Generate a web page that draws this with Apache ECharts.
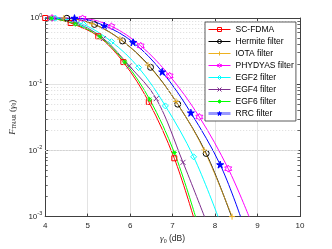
<!DOCTYPE html>
<html><head><meta charset="utf-8">
<script src="https://cdn.jsdelivr.net/npm/echarts@6/dist/echarts.min.js"></script>
<style>html,body{margin:0;padding:0;background:#fff}#c{width:332px;height:249px}</style>
</head><body><div id="c"></div>
<script>
// ---- data ----
const xTicks = [4, 5, 6, 7, 8, 9, 10];
const yTickExps = [0, -1, -2, -3];
const seriesNames = ['SC-FDMA', 'Hermite filter', 'IOTA filter', 'PHYDYAS filter', 'EGF2 filter', 'EGF4 filter', 'EGF6 filter', 'RRC filter'];

const scX = [4.0, 4.3, 4.6, 5.25, 5.84, 6.44, 7.04, 7.49];
const scY = [1.0, 0.95, 0.84, 0.53, 0.216, 0.054, 0.0076, 0.001];
const scMarks = [0, 2, 3, 4, 5, 6];

const hermX = [4.0, 4.51, 5.16, 5.82, 6.48, 7.12, 7.79, 8.39];
const hermY = [1.0, 0.99, 0.80, 0.45, 0.18, 0.05, 0.009, 0.001];
const hermMarks = [1, 2, 3, 4, 5, 6];

const iotaX = [4.0, 4.44, 5.10, 5.76, 6.42, 7.08, 7.74, 8.40];
const iotaY = [1.0, 0.995, 0.82, 0.48, 0.195, 0.055, 0.0101, 0.001];
const iotaMarks = [1, 2, 3, 4, 5, 6, 7];

const phyX = [4.0, 4.16, 4.88, 5.56, 6.25, 6.93, 7.63, 8.31, 8.80];
const phyY = [1.0, 1.0, 0.985, 0.75, 0.38, 0.134, 0.032, 0.0053, 0.001];
const phyMarks = [1, 2, 3, 4, 5, 6, 7];

const egf2X = [4.0, 4.24, 4.9, 5.56, 6.2, 6.83, 7.495, 8.07];
const egf2Y = [1.0, 0.995, 0.80, 0.44, 0.178, 0.047, 0.008, 0.001];
const egf2Marks = [1, 2, 3, 4, 5, 6];

const egf4X = [4.0, 4.13, 4.75, 5.37, 5.98, 6.615, 7.245, 7.75];
const egf4Y = [1.0, 0.99, 0.83, 0.49, 0.189, 0.0605, 0.0066, 0.001];
const egf4Marks = [1, 2, 3, 4, 5, 6];

const egf6X = [4.0, 4.14, 4.71, 5.29, 5.875, 6.46, 7.04, 7.54];
const egf6Y = [1.0, 0.99, 0.81, 0.52, 0.216, 0.059, 0.0093, 0.001];
const egf6Marks = [1, 2, 3, 4, 5, 6];

const rrcX = [4.0, 4.69, 5.39, 6.07, 6.755, 7.43, 8.12, 8.60];
const rrcY = [1.0, 0.995, 0.77, 0.43, 0.154, 0.037, 0.0061, 0.001];
const rrcMarks = [1, 2, 3, 4, 5, 6];

// ---- styling ----
const FONT = '"Liberation Sans", Arial, sans-serif';
const SERIF = '"Liberation Serif", "DejaVu Serif", serif';
const AX = '#404040';
const PLUS = 'path://M0,-1L0,1M-1,0L1,0';
const XMARK = 'path://M-1,-1L1,1M-1,1L1,-1';
const ASTER = 'path://M0,-1L0,1M-1,0L1,0M-0.7,-0.7L0.7,0.7M-0.7,0.7L0.7,-0.7';
const HEXA = 'path://M0,-1L0.2887,-0.5L0.866,-0.5L0.577,0L0.866,0.5L0.2887,0.5L0,1L-0.2887,0.5L-0.866,0.5L-0.577,0L-0.866,-0.5L-0.2887,-0.5Z';
const PENTA = 'path://M0,-1L0.2245,-0.309L0.951,-0.309L0.363,0.118L0.588,0.809L0,0.382L-0.588,0.809L-0.363,0.118L-0.951,-0.309L-0.2245,-0.309Z';

const styles = [
  ['#ff0000', 'rect', 5, false],
  ['#000000', 'circle', 6, false],
  ['#EDB120', PLUS, 6, false],
  ['#ff00ff', HEXA, 7, false],
  ['#00ffff', 'diamond', 6, false],
  ['#7E2F8E', XMARK, 5, false],
  ['#00ff00', ASTER, 5, false],
  ['#0000ff', PENTA, 7, true]
];

function mk(idx, xs, ys, marks, lineOpacity) {
  const [color, symbol, size, filled] = styles[idx];
  return {
    name: seriesNames[idx], type: 'line', smooth: 0.35, clip: true,
    symbol: symbol, symbolSize: size, showSymbol: true,
    data: xs.map((x, i) => marks.includes(i) ? { value: [x, ys[i]] } : { value: [x, ys[i]], symbol: 'none' }),
    lineStyle: { color: color, width: 1, opacity: lineOpacity == null ? 1 : lineOpacity },
    itemStyle: { color: filled ? color : 'rgba(255,255,255,0)', borderColor: color, borderWidth: 1 },
    emphasis: { disabled: true },
    z: 3
  };
}

const minorVals = [];
[-3, -2, -1].forEach(d => { for (let k = 2; k <= 9; k++) minorVals.push(+(k * Math.pow(10, d)).toPrecision(3)); });
const markData = minorVals.map(v => ({ yAxis: v }));
minorVals.forEach(v => {
  markData.push([{ coord: [4, v], lineStyle: { type: 'solid', color: AX, width: 0.8 } }, { coord: [4.06, v] }]);
  markData.push([{ coord: [9.94, v], lineStyle: { type: 'solid', color: AX, width: 0.8 } }, { coord: [10, v] }]);
});

const legendData = seriesNames.map((n, i) => {
  const [color, symbol, size, filled] = styles[i];
  return {
    name: n,
    itemStyle: { color: filled ? color : 'rgba(255,255,255,0)', borderColor: color, borderWidth: 1 },
    lineStyle: i === 7 ? { color: color, width: 3, opacity: 0.4 } : { color: color, width: 1, opacity: 1 }
  };
});

const chart = echarts.init(document.getElementById('c'), null, { renderer: 'canvas' });
chart.setOption({
  animation: false,
  backgroundColor: '#fff',
  grid: { left: 43, right: 32, top: 18, bottom: 28, show: false },
  legend: {
    data: legendData, orient: 'vertical', left: 205, top: 22,
    itemWidth: 22, itemHeight: 5, itemGap: 3, padding: [3, 2, 3, 2],
    backgroundColor: '#fff', borderColor: '#333', borderWidth: 0.8,
    textStyle: { fontSize: 8.5, fontFamily: FONT, color: '#000', lineHeight: 9 },
    z: 10
  },
  xAxis: [{
    type: 'value', min: 4, max: 10, interval: 1, position: 'bottom',
    axisLine: { show: true, onZero: false, lineStyle: { color: AX, width: 1 } },
    axisTick: { show: true, inside: true, length: 3, lineStyle: { color: AX } },
    axisLabel: { fontSize: 8, fontFamily: FONT, color: '#262626', margin: 5 },
    splitLine: { show: true, lineStyle: { color: '#e3e3e3', width: 1 } },
    name: '{i|γ}{sub|0}{n| (dB)}', nameLocation: 'middle', nameGap: 15,
    nameTextStyle: { rich: {
      i: { fontFamily: SERIF, fontStyle: 'italic', fontSize: 9, color: '#262626' },
      sub: { fontFamily: SERIF, fontSize: 6, color: '#262626', padding: [4, 0, 0, 0] },
      n: { fontFamily: FONT, fontSize: 8.5, color: '#262626' } } }
  }, {
    type: 'value', min: 4, max: 10, interval: 1, position: 'top',
    axisLine: { show: true, onZero: false, lineStyle: { color: AX, width: 1 } },
    axisTick: { show: true, inside: true, length: 3, lineStyle: { color: AX } },
    axisLabel: { show: false }, splitLine: { show: false }
  }],
  yAxis: [{
    type: 'log', logBase: 10, min: 0.001, max: 1, position: 'left',
    axisLine: { show: true, onZero: false, lineStyle: { color: AX, width: 1 } },
    axisTick: { show: true, inside: true, length: 3, lineStyle: { color: AX } },
    axisLabel: {
      margin: 3, fontFamily: FONT,
      formatter: v => { const e = Math.round(Math.log10(v)); return yTickExps.includes(e) ? '{b|10}{s|' + e + '}' : ''; },
      rich: { b: { fontSize: 8, fontFamily: FONT, color: '#262626' },
              s: { fontSize: 5.5, fontFamily: FONT, color: '#262626', padding: [0, 0, 6, 0] } }
    },
    splitLine: { show: true, lineStyle: { color: '#e3e3e3', width: 1 } },
    name: '{i|F}{sub|TNAR}{n| (}{i|γ}{sub|0}{n|)}', nameLocation: 'middle', nameGap: 21, nameRotate: 90,
    nameTextStyle: { rich: {
      i: { fontFamily: SERIF, fontStyle: 'italic', fontSize: 9, color: '#262626' },
      sub: { fontFamily: SERIF, fontSize: 5.5, color: '#262626', padding: [4, 0, 0, 0] },
      n: { fontFamily: SERIF, fontSize: 9, color: '#262626' } } }
  }, {
    type: 'log', logBase: 10, min: 0.001, max: 1, position: 'right',
    axisLine: { show: true, onZero: false, lineStyle: { color: AX, width: 1 } },
    axisTick: { show: true, inside: true, length: 3, lineStyle: { color: AX } },
    axisLabel: { show: false }, splitLine: { show: false }
  }],
  series: [
    { name: 'grid', type: 'line', data: [[4, 1]], symbol: 'none', lineStyle: { width: 0 }, z: 1,
      markLine: { silent: true, symbol: 'none', label: { show: false }, animation: false,
        lineStyle: { type: [1, 2], color: '#d2d2d2', width: 0.8 }, data: markData } },
    mk(0, scX, scY, scMarks),
    mk(1, hermX, hermY, hermMarks),
    mk(2, iotaX, iotaY, iotaMarks, 0.75),
    mk(3, phyX, phyY, phyMarks),
    mk(4, egf2X, egf2Y, egf2Marks),
    mk(5, egf4X, egf4Y, egf4Marks),
    mk(6, egf6X, egf6Y, egf6Marks),
    mk(7, rrcX, rrcY, rrcMarks)
  ]
});
</script></body></html>
